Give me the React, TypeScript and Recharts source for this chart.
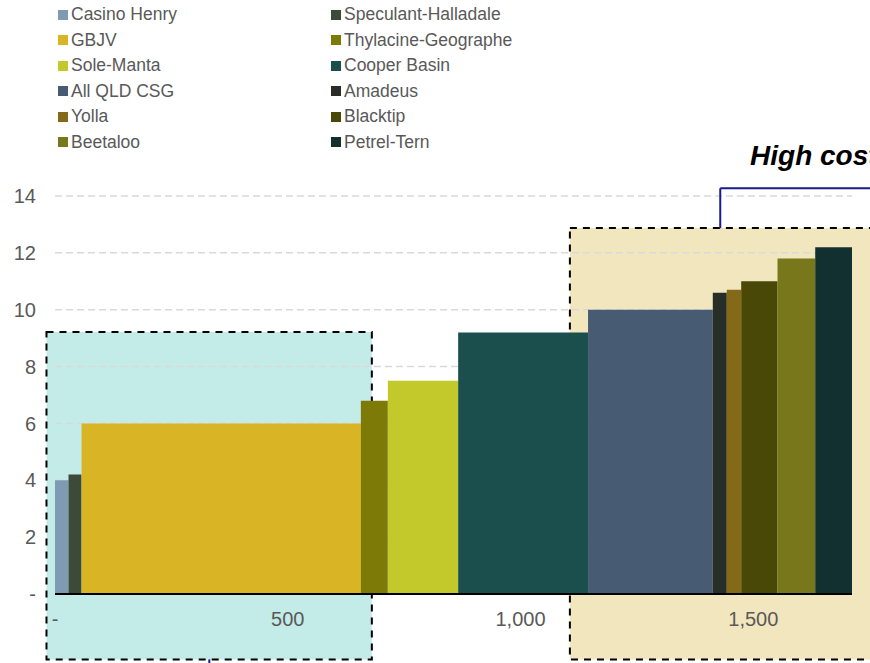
import React from "react";
import {
  ComposedChart,
  Area,
  XAxis,
  YAxis,
  ReferenceArea,
  ReferenceLine,
  ReferenceDot,
} from "recharts";

// Supply projects in merit order (cheapest first)
const projects = [
  "Casino Henry",
  "Speculant-Halladale",
  "GBJV",
  "Thylacine-Geographe",
  "Sole-Manta",
  "Cooper Basin",
  "All QLD CSG",
  "Amadeus",
  "Yolla",
  "Blacktip",
  "Beetaloo",
  "Petrel-Tern",
];
// Volume (x width) and cost (bar height)
const volumes = [29, 28, 600, 58, 151, 279, 268, 30, 31, 78, 81, 79];
const costs = [4.0, 4.2, 6.0, 6.8, 7.5, 9.2, 10.0, 10.6, 10.7, 11.0, 11.8, 12.2];
const colors = [
  "#7f9bb3",
  "#3d4a3a",
  "#d9b424",
  "#7e7a07",
  "#c4c92b",
  "#1b4f4d",
  "#475c73",
  "#272d27",
  "#846a18",
  "#4a4806",
  "#77781b",
  "#12302f",
];

const xTicks = [0, 500, 1000, 1500];
const yTicks = [0, 2, 4, 6, 8, 10, 12, 14];

const totalVolume = volumes.reduce((a, b) => a + b, 0);

// Build one two-point series per project: [start, end] at its cost
let cursor = 0;
const segments = projects.map((name, i) => {
  const start = cursor;
  cursor += volumes[i];
  return {
    name,
    color: colors[i],
    data: [
      { q: start, cost: costs[i] },
      { q: cursor, cost: costs[i] },
    ],
  };
});

const tickStyle = { fontSize: 20, fill: "#595959", fontFamily: "Liberation Sans, Arial, sans-serif" };

const fmtX = (v: number) => (v === 0 ? "-" : v.toLocaleString("en-US"));
const fmtY = (v: number) => (v === 0 ? "-" : String(v));

// thin ReferenceArea drawn as a single dashed line, so the grid sits over the boxes but under the bars
const GridLineShape = (p: any) => (
  <line
    x1={p.x}
    x2={p.x + p.width}
    y1={p.y + p.height / 2}
    y2={p.y + p.height / 2}
    stroke="#d9d9d9"
    strokeWidth={1.5}
    strokeDasharray="7 4"
  />
);

const LegendBlock = () => (
  <div style={{ position: "absolute", left: 0, top: 0, width: 870, height: 160 }}>
    {projects.map((name, i) => {
      const col = i % 2;
      const row = Math.floor(i / 2);
      return (
        <div
          key={name}
          style={{
            position: "absolute",
            left: col === 0 ? 58 : 331,
            top: 14.5 + row * 25.5 - 11,
            height: 22,
            display: "flex",
            alignItems: "center",
            fontFamily: "Liberation Sans, Arial, sans-serif",
            fontSize: 17.5,
            color: "#595959",
            whiteSpace: "nowrap",
          }}
        >
          <span style={{ width: 10, height: 10, background: colors[i], marginRight: 3, display: "inline-block" }} />
          {name}
        </div>
      );
    })}
  </div>
);

export default function App() {
  return (
    <div
      style={{
        position: "fixed",
        left: 0,
        top: 0,
        width: 870,
        height: 663,
        overflow: "hidden",
        background: "#fff",
      }}
    >
      <div style={{ position: "absolute", left: 0, top: 0 }}>
        <ComposedChart width={1000} height={663} margin={{ top: 196, right: 148, left: 0, bottom: 39 }}>
          {/* shaded low / high cost boxes */}
          <ReferenceArea
            x1={-18.3}
            x2={680.6}
            y1={-2.3}
            y2={9.22}
            ifOverflow="visible"
            fill="#c3ece9"
            fillOpacity={1}
            stroke="#000"
            strokeWidth={2}
            strokeDasharray="7 6"
          />
          <ReferenceArea
            x1={1106}
            x2={1950}
            y1={-2.3}
            y2={12.87}
            ifOverflow="visible"
            fill="#f2e6bf"
            fillOpacity={1}
            stroke="#000"
            strokeWidth={2}
            strokeDasharray="7 6"
          />
          {/* horizontal grid */}
          {yTicks.slice(1).map((v) => (
            <ReferenceArea
              key={`g${v}`}
              x1={0}
              x2={totalVolume}
              y1={v - 0.001}
              y2={v + 0.001}
              ifOverflow="visible"
              shape={GridLineShape}
            />
          ))}
          <XAxis
            type="number"
            dataKey="q"
            domain={[0, totalVolume]}
            ticks={xTicks}
            tickFormatter={fmtX}
            tickLine={false}
            axisLine={{ stroke: "#000", strokeWidth: 2 }}
            tick={tickStyle}
            tickMargin={12}
            height={30}
            allowDataOverflow
          />
          <YAxis
            type="number"
            domain={[0, 14]}
            ticks={yTicks}
            tickFormatter={fmtY}
            tickLine={false}
            axisLine={false}
            tick={tickStyle}
            tickMargin={13}
            width={55}
          />
          {segments.map((s) => (
            <Area
              key={s.name}
              data={s.data}
              dataKey="cost"
              name={s.name}
              type="linear"
              stroke="none"
              fill={s.color}
              fillOpacity={1}
              dot={false}
              activeDot={false}
              isAnimationActive={false}
            />
          ))}
          {/* High cost bracket */}
          <ReferenceLine
            segment={[
              { x: 1429, y: 12.87 },
              { x: 1429, y: 14.27 },
            ]}
            stroke="#1a1a8a"
            strokeWidth={2}
            ifOverflow="visible"
          />
          <ReferenceLine
            segment={[
              { x: 1429, y: 14.27 },
              { x: 1950, y: 14.27 },
            ]}
            stroke="#1a1a8a"
            strokeWidth={2}
            ifOverflow="visible"
          />
          {/* Low cost leader, mostly below the picture */}
          <ReferenceLine
            segment={[
              { x: 331.5, y: -2.3 },
              { x: 331.5, y: -2.8 },
            ]}
            stroke="#1a1a8a"
            strokeWidth={2}
            ifOverflow="visible"
          />
          <ReferenceDot
            x={1493}
            y={15.1}
            r={0}
            ifOverflow="visible"
            shape={(p: any) => (
              <text
                x={p.cx}
                y={p.cy}
                fontSize={28}
                fontWeight="bold"
                fontStyle="italic"
                fontFamily="Liberation Sans, Arial, sans-serif"
                fill="#000"
              >
                High cost
              </text>
            )}
          />
        </ComposedChart>
      </div>
      <LegendBlock />
    </div>
  );
}
